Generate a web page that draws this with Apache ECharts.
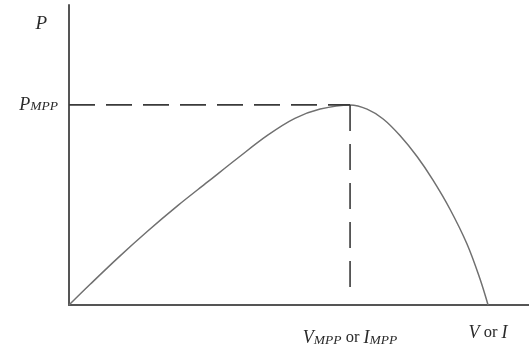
<!DOCTYPE html>
<html>
<head>
<meta charset="utf-8">
<style>html,body{margin:0;padding:0;background:#fff;}#c{width:529px;height:351px;}</style>
<script src="https://cdn.jsdelivr.net/npm/echarts@6/dist/echarts.min.js"></script>
</head>
<body>
<div id="c"></div>
<script>
// P-V (or P-I) curve, arbitrary units (x: 0..100, y: 0..100)
var curveX = [0, 4.6, 10.7, 17.0, 23.7, 30.2, 36.7, 43.2, 49.1, 54.6, 61.1, 64.8, 68.3, 72.0, 75.7, 79.1, 82.8, 86.5, 89.3, 91.1];
var curveY = [0, 6.9, 15.8, 24.5, 33.2, 41.1, 49.0, 56.6, 62.2, 65.3, 66.7, 65.3, 62.0, 56.4, 49.4, 41.7, 32.0, 20.4, 8.9, 0];
var V_MPP = 61.1;
var P_MPP = 66.7;
var V_END = 91.1;
var dashBottom = 4.7;
var yTickValues = [P_MPP];
var xTickValues = [V_MPP, V_END];

var curve = curveX.map(function (x, i) { return [x, curveY[i]]; });
var serif = '"Liberation Serif", "DejaVu Serif", serif';
var rich = {
  v: { fontFamily: serif, fontStyle: 'italic', fontSize: 18, color: '#2a2a2a', lineHeight: 18 },
  s: { fontFamily: serif, fontStyle: 'italic', fontSize: 13.5, color: '#2a2a2a', lineHeight: 11, verticalAlign: 'bottom' },
  o: { fontFamily: serif, fontSize: 16.5, color: '#2a2a2a', lineHeight: 18 },
  vb: { fontFamily: serif, fontStyle: 'italic', fontSize: 18, color: '#2a2a2a', lineHeight: 8 },
  ob: { fontFamily: serif, fontSize: 16.5, color: '#2a2a2a', lineHeight: 8 }
};

var chart = echarts.init(document.getElementById('c'), null, { renderer: 'canvas' });
chart.setOption({
  animation: false,
  backgroundColor: '#fff',
  grid: { left: 69, right: 0, top: 5, bottom: 46, containLabel: false },
  xAxis: {
    type: 'value', min: 0, max: 100,
    axisLine: { show: true, lineStyle: { color: '#555', width: 2 } },
    axisTick: { show: false },
    splitLine: { show: false },
    axisLabel: {
      customValues: xTickValues,
      margin: 24,
      formatter: function (v) {
        if (Math.abs(v - V_MPP) < 0.01) return '{v|V}{s|MPP}{o| or }{v|I}{s|MPP}';
        return '{vb|V}{ob| or }{vb|I}';
      },
      rich: rich
    }
  },
  yAxis: {
    type: 'value', min: 0, max: 100,
    name: 'P',
    nameLocation: 'end',
    nameGap: -28,
    nameTextStyle: { fontFamily: serif, fontStyle: 'italic', fontSize: 19, color: '#2a2a2a', align: 'right', padding: [0, 22, 0, 0] },
    axisLine: { show: true, lineStyle: { color: '#555', width: 2 } },
    axisTick: { show: false },
    splitLine: { show: false },
    axisLabel: {
      customValues: yTickValues,
      margin: 11,
      formatter: function () { return '{v|P}{s|MPP}'; },
      rich: rich
    }
  },
  series: [
    {
      type: 'line', data: curve, smooth: 0.35, symbol: 'none',
      lineStyle: { color: '#707070', width: 1.5 }
    },
    {
      type: 'line', data: [[0, P_MPP], [V_MPP, P_MPP]], symbol: 'none',
      lineStyle: { color: '#3a3a3a', width: 1.6, type: [26, 11] }
    },
    {
      type: 'line', data: [[V_MPP, P_MPP], [V_MPP, dashBottom]], symbol: 'none',
      lineStyle: { color: '#3a3a3a', width: 1.6, type: [26, 13] }
    }
  ]
});
</script>
</body>
</html>
